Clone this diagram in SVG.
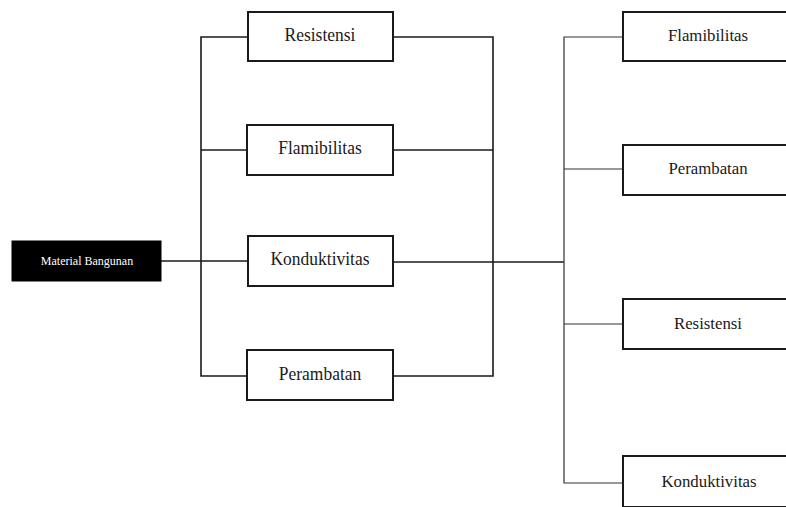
<svg xmlns="http://www.w3.org/2000/svg" width="786" height="507" viewBox="0 0 786 507">
  <style>
    .box { fill: #ffffff; stroke: #1a1a1a; stroke-width: 2; }
    .root { fill: #000000; stroke: #000000; stroke-width: 1; }
    .lbl { font-family: "Liberation Serif", "Times New Roman", serif; font-size: 19px; fill: #1a1a1a; text-anchor: middle; dominant-baseline: central; }
    .rlbl { font-family: "Liberation Serif", "Times New Roman", serif; font-size: 16.8px; fill: #1a1a1a; text-anchor: middle; dominant-baseline: central; }
    .rootlbl { font-family: "Liberation Serif", "Times New Roman", serif; font-size: 12px; fill: #ffffff; text-anchor: middle; dominant-baseline: central; }
    .wire { fill: none; stroke: #1a1a1a; stroke-width: 1.6; }
    .wire-thin { fill: none; stroke: #333333; stroke-width: 1.2; }
  </style>

  <rect width="786" height="507" fill="#ffffff"/>

  <g id="connectors">
    <!-- root to first column -->
    <line class="wire" x1="161" y1="261" x2="248" y2="261"/>
    <!-- left bracket -->
    <polyline class="wire" points="248,37 201,37 201,376 248,376"/>
    <line class="wire" x1="201" y1="150" x2="248" y2="150"/>
    <!-- right bracket of first column -->
    <polyline class="wire" points="393,37 493,37 493,376 393,376"/>
    <line class="wire" x1="393" y1="150" x2="493" y2="150"/>
    <line class="wire" x1="393" y1="262" x2="564" y2="262"/>
    <!-- second column bracket -->
    <polyline class="wire-thin" points="623,37 564,37 564,483 623,483"/>
    <line class="wire-thin" x1="564" y1="169" x2="623" y2="169"/>
    <line class="wire-thin" x1="564" y1="324" x2="623" y2="324"/>
  </g>

  <g id="material-bangunan">
    <rect class="root" x="12" y="241" width="149" height="40"/>
    <text class="rootlbl" x="87" y="261">Material Bangunan</text>
  </g>

  <!-- first column: labels slightly condensed -->
  <g id="l-resistensi">
    <rect class="box" x="248" y="12" width="145" height="49"/>
    <text class="lbl" transform="translate(320 35) scale(0.92 1)">Resistensi</text>
  </g>
  <g id="l-flamibilitas">
    <rect class="box" x="247" y="125" width="146" height="50"/>
    <text class="lbl" transform="translate(320 148) scale(0.92 1)">Flamibilitas</text>
  </g>
  <g id="l-konduktivitas">
    <rect class="box" x="248" y="236" width="145" height="50"/>
    <text class="lbl" transform="translate(320 259) scale(0.92 1)">Konduktivitas</text>
  </g>
  <g id="l-perambatan">
    <rect class="box" x="247" y="350" width="146" height="50"/>
    <text class="lbl" transform="translate(320 374) scale(0.92 1)">Perambatan</text>
  </g>

  <!-- second column, running off the right edge -->
  <g id="r-flamibilitas">
    <rect class="box" x="623" y="12" width="180" height="49"/>
    <text class="rlbl" x="708" y="35">Flamibilitas</text>
  </g>
  <g id="r-perambatan">
    <rect class="box" x="623" y="145" width="180" height="50"/>
    <text class="rlbl" x="708" y="168">Perambatan</text>
  </g>
  <g id="r-resistensi">
    <rect class="box" x="623" y="299" width="180" height="50"/>
    <text class="rlbl" x="708" y="323">Resistensi</text>
  </g>
  <g id="r-konduktivitas">
    <rect class="box" x="623" y="456" width="180" height="51"/>
    <text class="rlbl" x="709" y="481">Konduktivitas</text>
  </g>
</svg>
